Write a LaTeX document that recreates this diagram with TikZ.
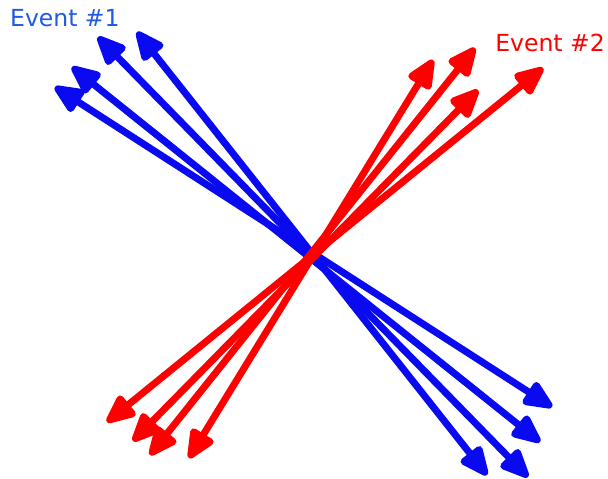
\documentclass[tikz,border=0pt]{standalone}
\usepackage{fontspec}
\setmainfont{DejaVu Sans}
\usetikzlibrary{arrows.meta}
\definecolor{azul}{HTML}{0A0AF0}
\definecolor{azultx}{HTML}{1E5AE6}
\definecolor{rojo}{HTML}{FF0000}

\begin{document}
\begin{tikzpicture}[x=1pt, y=-1pt,
      ev/.style={line width=7pt, line cap=round,
                 {Triangle[length=34pt, width=28pt, round]}-{Triangle[length=34pt, width=28pt, round]}},
      lbl/.style={font=\fontsize{23.5}{28}\selectfont, inner sep=0pt}]
    \useasboundingbox (0,0) rectangle (608,479);

    % tips of event 1
    \coordinate (b1a) at (137,32);  \coordinate (b1b) at (487,475);
    \coordinate (b2a) at (98,37);   \coordinate (b2b) at (528,477);
    \coordinate (b3a) at (72,67);   \coordinate (b3b) at (540,442);
    \coordinate (b4a) at (55,87);   \coordinate (b4b) at (552,407);
    % tips of event 2
    \coordinate (r1a) at (433,60);  \coordinate (r1b) at (189,458);
    \coordinate (r2a) at (475,48);  \coordinate (r2b) at (150,455);
    \coordinate (r3a) at (478,90);  \coordinate (r3b) at (133,441);
    \coordinate (r4a) at (543,68);  \coordinate (r4b) at (107,422);

    \foreach \i in {1,...,4}
      \draw[ev, azul] (b\i a) -- (b\i b);
    \foreach \i in {1,...,4}
      \draw[ev, rojo] (r\i a) -- (r\i b);

    \node[lbl, text=azultx, anchor=west] (e1) at (10,18) {Event \#1};
    \node[lbl, text=rojo, anchor=east] (e2) at (605,43) {Event \#2};
  \end{tikzpicture}
\end{document}
